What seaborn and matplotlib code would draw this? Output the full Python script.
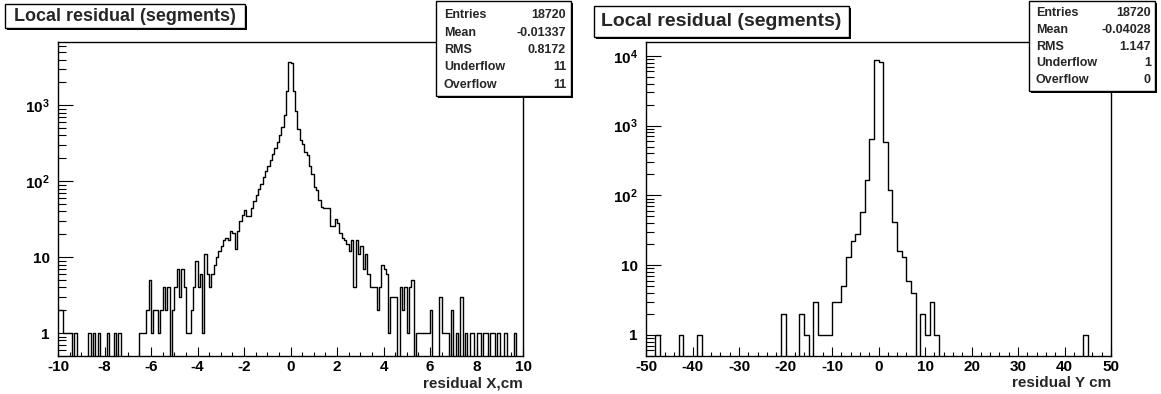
import matplotlib
matplotlib.use("Agg")
import matplotlib.pyplot as plt
import seaborn as sns
import numpy as np
import pandas as pd
from matplotlib.ticker import MultipleLocator, FixedLocator, LogLocator, NullFormatter
from matplotlib.patches import Rectangle

# residual X: 200 bins between -10 and 10
x_range = (-10, 10)
x_counts = [
    2, 2, 1, 1, 1, 1, 0, 1, 0, 0, 0, 0, 0, 1, 0, 1, 0, 1, 0, 0,
    0, 1, 0, 0, 1, 0, 1, 0, 0, 0, 0, 0, 0, 0, 0, 1, 1, 1, 2, 5,
    1, 2, 2, 1, 2, 4, 2, 4, 0, 2, 4, 7, 3, 7, 4, 1, 1, 2, 4, 9,
    4, 6, 1, 11, 6, 4, 6, 8, 10, 12, 14, 17, 18, 17, 22, 21, 13, 22, 30, 36,
    42, 35, 35, 44, 55, 66, 80, 93, 112, 135, 160, 190, 225, 270, 330, 400, 520, 750, 1560, 3700,
    3600, 1560, 850, 490, 345, 310, 240, 220, 160, 126, 84, 76, 56, 46, 44, 44, 44, 26, 26, 32,
    28, 21, 18, 17, 15, 12, 17, 4, 17, 11, 14, 7, 11, 6, 4, 4, 4, 2, 4, 8,
    7, 6, 1, 3, 3, 3, 0, 4, 2, 4, 1, 4, 5, 0, 1, 1, 1, 1, 1, 1,
    2, 0, 0, 0, 3, 1, 1, 1, 0, 2, 0, 1, 0, 3, 0, 1, 0, 1, 1, 0,
    1, 1, 0, 1, 1, 0, 1, 1, 0, 1, 0, 0, 1, 0, 0, 0, 1, 0, 0, 0,
]
x_stats_names = ["Entries", "Mean", "RMS", "Underflow", "Overflow"]
x_stats_values = ["18720", "-0.01337", "0.8172", "11", "11"]

# residual Y: 100 bins between -50 and 50
y_range = (-50, 50)
y_counts = [
    0, 0, 1, 0, 0, 0, 0, 1, 0, 0, 0, 1, 0, 0, 0, 0, 0, 0, 0, 0,
    0, 0, 0, 0, 0, 0, 0, 0, 0, 2, 0, 0, 0, 2, 1, 0, 3, 1, 1, 1,
    3, 3, 5, 13, 22, 28, 58, 168, 650, 8700, 8300, 580, 120, 42, 16, 13, 6, 4, 0, 2,
    1, 3, 1, 0, 0, 0, 0, 0, 0, 0, 0, 0, 0, 0, 0, 0, 0, 0, 0, 0,
    0, 0, 0, 0, 0, 0, 0, 0, 0, 0, 0, 0, 0, 0, 1, 0, 0, 0, 0, 0,
]
y_stats_names = ["Entries", "Mean", "RMS", "Underflow", "Overflow"]
y_stats_values = ["18720", "-0.04028", "1.147", "1", "0"]

title = "Local residual (segments)"

sns.set_style("white")
plt.rcParams["font.family"] = ["Liberation Sans", "DejaVu Sans"]
plt.rcParams["font.weight"] = "bold"
plt.rcParams["axes.unicode_minus"] = False
plt.rcParams["mathtext.fontset"] = "custom"
plt.rcParams["mathtext.rm"] = "Liberation Sans:bold"
plt.rcParams["mathtext.bf"] = "Liberation Sans:bold"

W, H = 1161, 394


def fx(px):
    return px / W


def fy(py):
    return 1 - py / H


def box(fig, x0, y0, x1, y1, sh=2):
    shadow = Rectangle((fx(x0 + sh), fy(y1 + sh)), (x1 - x0) / W, (y1 - y0) / H,
                       transform=fig.transFigure, facecolor="black", edgecolor="black", lw=0)
    front = Rectangle((fx(x0), fy(y1)), (x1 - x0) / W, (y1 - y0) / H,
                      transform=fig.transFigure, facecolor="white", edgecolor="black", lw=1)
    fig.add_artist(shadow)
    fig.add_artist(front)


def draw_hist(ax, rng, counts, ymax, major, minor, dec_labels):
    edges = np.linspace(rng[0], rng[1], len(counts) + 1)
    df = pd.DataFrame({"center": (edges[:-1] + edges[1:]) / 2, "count": counts})
    sns.histplot(data=df, x="center", weights="count", bins=len(counts), binrange=rng,
                 element="step", fill=False, color="black", linewidth=1.0, ax=ax)
    ax.set_yscale("log")
    ax.set_xlim(rng)
    ax.set_ylim(0.5, ymax)
    ax.set_xlabel("")
    ax.set_ylabel("")
    ax.xaxis.set_major_locator(MultipleLocator(major))
    ax.xaxis.set_minor_locator(MultipleLocator(minor))
    ax.yaxis.set_major_locator(FixedLocator([10 ** i for i in range(len(dec_labels))]))
    ax.yaxis.set_major_formatter(plt.FixedFormatter(dec_labels))
    ax.yaxis.set_minor_locator(LogLocator(base=10, subs=np.arange(2, 10), numticks=100))
    ax.yaxis.set_minor_formatter(NullFormatter())
    ax.tick_params(which="both", direction="in", bottom=True, left=True, top=False, right=False,
                   colors="black", labelsize=11, width=0.8)
    ax.tick_params(axis="x", which="major", length=6.5, pad=3)
    ax.tick_params(axis="x", which="minor", length=3.2)
    ax.tick_params(axis="y", which="major", length=10.8, pad=6)
    ax.tick_params(axis="y", which="minor", length=5.4)
    for lab in ax.get_xticklabels() + ax.get_yticklabels():
        lab.set_fontweight("bold")
    for s in ax.spines.values():
        s.set_visible(True)
        s.set_color("black")
        s.set_linewidth(1.0)


fig = plt.figure(figsize=(11.61, 3.94), dpi=100)
ax1 = fig.add_axes([fx(58), fy(356), (523 - 58) / W, (356 - 42) / H])
ax2 = fig.add_axes([fx(646), fy(356), (1111 - 646) / W, (356 - 42) / H])

draw_hist(ax1, x_range, x_counts, 6800, 2, 0.5,
          ["1", "10", r"$\mathbf{10^{2}}$", r"$\mathbf{10^{3}}$"])
draw_hist(ax2, y_range, y_counts, 15800, 10, 2,
          ["1", "10", r"$\mathbf{10^{2}}$", r"$\mathbf{10^{3}}$", r"$\mathbf{10^{4}}$"])

fig.text(fx(523), fy(383), "residual X,cm", ha="right", va="center", fontsize=11, fontweight="bold")
fig.text(fx(1111), fy(383), "residual Y cm", ha="right", va="center", fontsize=11, fontweight="bold")

# title boxes
box(fig, 5, 4, 245, 28)
fig.text(fx(125), fy(16.5), title, ha="center", va="center", fontsize=13, fontweight="bold")
box(fig, 594, 6, 849, 37)
fig.text(fx(721.5), fy(21.5), title, ha="center", va="center", fontsize=14, fontweight="bold")

# stats boxes
box(fig, 436, 1, 571, 96)
for i, (n, v) in enumerate(zip(x_stats_names, x_stats_values)):
    yy = 15 + i * 17.5
    fig.text(fx(444), fy(yy), n, ha="left", va="center", fontsize=9, fontweight="bold")
    fig.text(fx(566), fy(yy), v, ha="right", va="center", fontsize=9, fontweight="bold")

box(fig, 1029, 1, 1155, 91)
for i, (n, v) in enumerate(zip(y_stats_names, y_stats_values)):
    yy = 13 + i * 16.8
    fig.text(fx(1036), fy(yy), n, ha="left", va="center", fontsize=9, fontweight="bold")
    fig.text(fx(1151), fy(yy), v, ha="right", va="center", fontsize=9, fontweight="bold")

fig.savefig("out.png", dpi=100, facecolor="white")
